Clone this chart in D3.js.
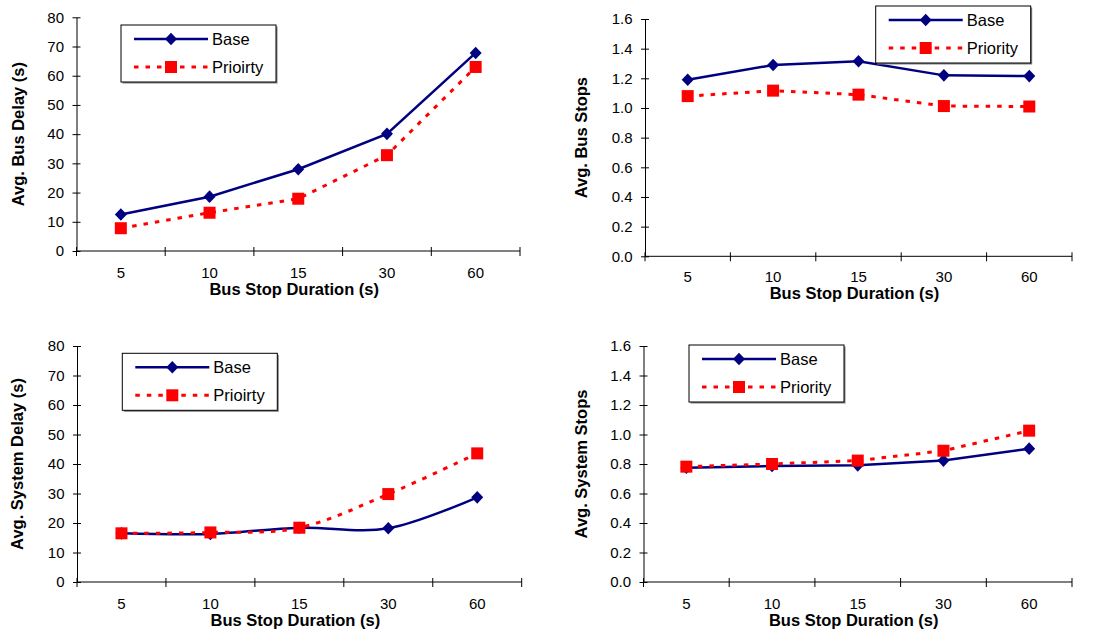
<!DOCTYPE html>
<html lang="en">
<head>
    <meta charset="UTF-8">
    <title>Bus stop duration</title>
    <style>
        body { margin: 0; background: #fff; }
        text { font-family: "Liberation Sans", Arial, Helvetica, sans-serif; fill: #000; }
    </style>
</head>
<body>
    <svg id="svg" width="1096" height="635"></svg>

    <script src="https://d3js.org/d3.v7.min.js"></script>
    <script>
        // data
        const durations = ['5', '10', '15', '30', '60']
        const delayTicks = [0, 10, 20, 30, 40, 50, 60, 70, 80]
        const stopTicks = [0, 0.2, 0.4, 0.6, 0.8, 1.0, 1.2, 1.4, 1.6]

        const busDelayBase = [12.5, 18.6, 28.0, 40.1, 67.8]
        const busDelayPriority = [7.8, 13.1, 17.9, 32.8, 63.0]
        const busStopsBase = [1.19, 1.29, 1.315, 1.22, 1.215]
        const busStopsPriority = [1.08, 1.117, 1.09, 1.013, 1.01]
        const sysDelayBase = [16.5, 16.3, 18.4, 18.2, 28.7]
        const sysDelayPriority = [16.5, 16.8, 18.4, 29.8, 43.6]
        const sysStopsBase = [0.775, 0.786, 0.791, 0.823, 0.904]
        const sysStopsPriority = [0.782, 0.8, 0.823, 0.89, 1.026]

        const svg = d3.select('#svg')

        // one panel per chart
        const panels = [
            { left: 76.5, right: 520, top: 17.3, bottom: 251, ticks: delayTicks, fmt: d3.format('d'),
              yTitle: 'Avg. Bus Delay (s)', yTitleX: 18, xTitleY: 289, tickPad: 16,
              base: busDelayBase, priority: busDelayPriority, names: ['Base', 'Prioirty'],
              legend: [121, 25], smooth: false },
            { left: 645, right: 1072, top: 19, bottom: 256.3, ticks: stopTicks, fmt: d3.format('.1f'),
              yTitle: 'Avg. Bus Stops', yTitleX: 581, xTitleY: 293, tickPad: 15,
              base: busStopsBase, priority: busStopsPriority, names: ['Base', 'Priority'],
              legend: [875.7, 6], smooth: false },
            { left: 77, right: 521.7, top: 346, bottom: 582, ticks: delayTicks, fmt: d3.format('d'),
              yTitle: 'Avg. System Delay (s)', yTitleX: 17, xTitleY: 620, tickPad: 16,
              base: sysDelayBase, priority: sysDelayPriority, names: ['Base', 'Prioirty'],
              legend: [122.3, 353.3], smooth: true },
            { left: 643.5, right: 1072, top: 346, bottom: 582, ticks: stopTicks, fmt: d3.format('.1f'),
              yTitle: 'Avg. System Stops', yTitleX: 581, xTitleY: 620, tickPad: 16,
              base: sysStopsBase, priority: sysStopsPriority, names: ['Base', 'Priority'],
              legend: [689, 345], smooth: false }
        ]

        const navy = '#000080'
        const red = '#ff0000'

        function marker(g, kind, x, y) {
            if (kind === 'base') {
                g.append('path')
                    .attr('d', `M${x},${y - 6.3}L${x + 6},${y}L${x},${y + 6.3}L${x - 6},${y}Z`)
                    .attr('fill', navy)
            } else {
                g.append('rect')
                    .attr('x', x - 6).attr('y', y - 6)
                    .attr('width', 12).attr('height', 12)
                    .attr('fill', red)
            }
        }

        panels.forEach(p => {
            const g = svg.append('g')
            const x = d3.scaleBand().domain(durations).range([p.left, p.right])
            const cx = d => x(d) + x.bandwidth() / 2
            const y = d3.scaleLinear()
                .domain([0, p.ticks[p.ticks.length - 1]])
                .range([p.bottom, p.top])

            // y axis, ticks cross the axis line
            const yAxis = g.append('g')
                .attr('transform', `translate(${p.left},0)`)
                .call(d3.axisLeft(y).tickValues(p.ticks).tickFormat(p.fmt)
                    .tickSize(4).tickSizeOuter(0).tickPadding(8.5))
            yAxis.attr('font-size', null)
            yAxis.selectAll('.tick line').attr('x1', 4)
            yAxis.selectAll('text').style('font-size', '15px').attr('fill', '#000')
            yAxis.selectAll('line,path').attr('stroke', '#000')

            // x axis: labels at band centres, ticks at band edges
            const xAxis = g.append('g')
                .attr('transform', `translate(0,${p.bottom})`)
                .call(d3.axisBottom(x).tickSize(0).tickPadding(p.tickPad))
            xAxis.attr('font-size', null)
            xAxis.select('.domain').remove()
            xAxis.selectAll('text').style('font-size', '15px').attr('fill', '#000')
            xAxis.append('line')
                .attr('x1', p.left).attr('x2', p.right)
                .attr('stroke', '#000')
            const edges = durations.map(d => x(d)).concat([p.right])
            xAxis.selectAll('line.edge')
                .data(edges)
                .enter()
                .append('line')
                .attr('class', 'edge')
                .attr('x1', d => d).attr('x2', d => d)
                .attr('y1', -4).attr('y2', 5)
                .attr('stroke', '#000')

            // titles
            g.append('text')
                .text(p.yTitle)
                .attr('transform', `translate(${p.yTitleX},${(p.top + p.bottom) / 2}) rotate(-90)`)
                .attr('text-anchor', 'middle')
                .attr('dominant-baseline', 'central')
                .style('font-size', '16.5px')
                .style('font-weight', 'bold')
            g.append('text')
                .text('Bus Stop Duration (s)')
                .attr('x', (p.left + p.right) / 2 - 4)
                .attr('y', p.xTitleY)
                .attr('text-anchor', 'middle')
                .attr('dominant-baseline', 'central')
                .style('font-size', '16.5px')
                .style('font-weight', 'bold')

            // lines
            const line = d3.line()
                .x((d, i) => cx(durations[i]))
                .y(d => y(d))
                .curve(p.smooth ? d3.curveCardinal.tension(0) : d3.curveLinear)
            g.append('path')
                .attr('d', line(p.base))
                .attr('fill', 'none')
                .attr('stroke', navy)
                .attr('stroke-width', 2.5)
            p.base.forEach((v, i) => marker(g, 'base', cx(durations[i]), y(v)))
            g.append('path')
                .attr('d', line(p.priority))
                .attr('fill', 'none')
                .attr('stroke', red)
                .attr('stroke-width', 3)
                .attr('stroke-dasharray', '4.5,7')
            p.priority.forEach((v, i) => marker(g, 'priority', cx(durations[i]), y(v)))

            // legend
            const [lx, ly] = p.legend
            const lg = g.append('g').attr('transform', `translate(${lx},${ly})`)
            lg.append('rect')
                .attr('x', 1.5).attr('y', 1.5).attr('width', 155).attr('height', 57)
                .attr('fill', '#808080')
            lg.append('rect')
                .attr('x', 0).attr('y', 0).attr('width', 155).attr('height', 57)
                .attr('fill', '#fff').attr('stroke', '#000').attr('stroke-width', 1)
            const rows = [
                { kind: 'base', name: p.names[0], dy: 14, color: navy, dash: null, w: 2.5 },
                { kind: 'priority', name: p.names[1], dy: 42, color: red, dash: '4.5,7', w: 3 }
            ]
            rows.forEach(r => {
                lg.append('line')
                    .attr('x1', 13).attr('x2', 87)
                    .attr('y1', r.dy).attr('y2', r.dy)
                    .attr('stroke', r.color)
                    .attr('stroke-width', r.w)
                    .attr('stroke-dasharray', r.dash)
                marker(lg, r.kind, 50, r.dy)
                lg.append('text')
                    .text(r.name)
                    .attr('x', 91)
                    .attr('y', r.dy)
                    .attr('dominant-baseline', 'central')
                    .style('font-size', '16.5px')
            })
        })
    </script>
</body>
</html>
